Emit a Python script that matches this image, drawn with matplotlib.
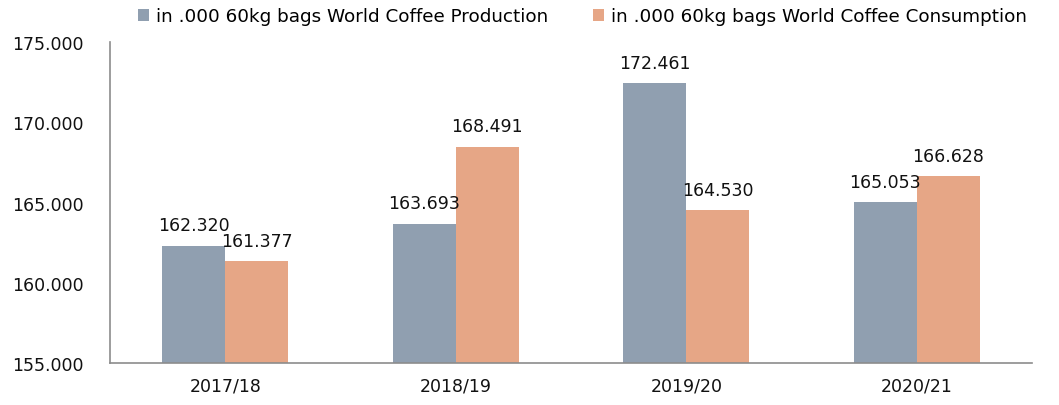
import matplotlib
matplotlib.use('Agg')
import matplotlib.pyplot as plt
import numpy as np

seasons = ['2017/18', '2018/19', '2019/20', '2020/21']
production = [162.320, 163.693, 172.461, 165.053]
consumption = [161.377, 168.491, 164.530, 166.628]
prod_label = 'in .000 60kg bags World Coffee Production'
cons_label = 'in .000 60kg bags World Coffee Consumption'

c_prod = '#909fb0'
c_cons = '#e6a686'

fig = plt.figure(figsize=(10.59, 4.06), dpi=100)
ax = fig.add_axes([0.1039, 0.1034, 0.8706, 0.7906])

x = np.arange(len(seasons))
w = 0.274
b1 = ax.bar(x - w / 2, production, w, color=c_prod, label=prod_label)
b2 = ax.bar(x + w / 2, consumption, w, color=c_cons, label=cons_label)

for bars, vals in [(b1, production), (b2, consumption)]:
    for r, v in zip(bars, vals):
        ax.annotate('%.3f' % v, (r.get_x() + r.get_width() / 2, v),
                    xytext=(0, 8), textcoords='offset points',
                    ha='center', va='bottom', fontsize=12.5, color='#111111')

ax.set_ylim(155, 175)
ax.set_xlim(-0.5, 3.5)
ax.set_yticks([155, 160, 165, 170, 175])
ax.set_yticklabels(['%.3f' % t for t in [155, 160, 165, 170, 175]])
ax.set_xticks(x)
ax.set_xticklabels(seasons)
ax.tick_params(axis='both', length=0, labelsize=12.5, labelcolor='#111111')
ax.tick_params(axis='y', pad=19)
ax.tick_params(axis='x', pad=10)
for s in ['top', 'right']:
    ax.spines[s].set_visible(False)
for s in ['left', 'bottom']:
    ax.spines[s].set_color('#8c8c8c')
    ax.spines[s].set_linewidth(1.2)

fig.legend(handles=[b1, b2], loc='upper center', bbox_to_anchor=(0.55, 1.02),
           ncol=2, frameon=False, fontsize=13.2, handlelength=0.6, handleheight=0.6,
           handletextpad=0.4, columnspacing=2.4)

fig.savefig('out.png', dpi=100)
